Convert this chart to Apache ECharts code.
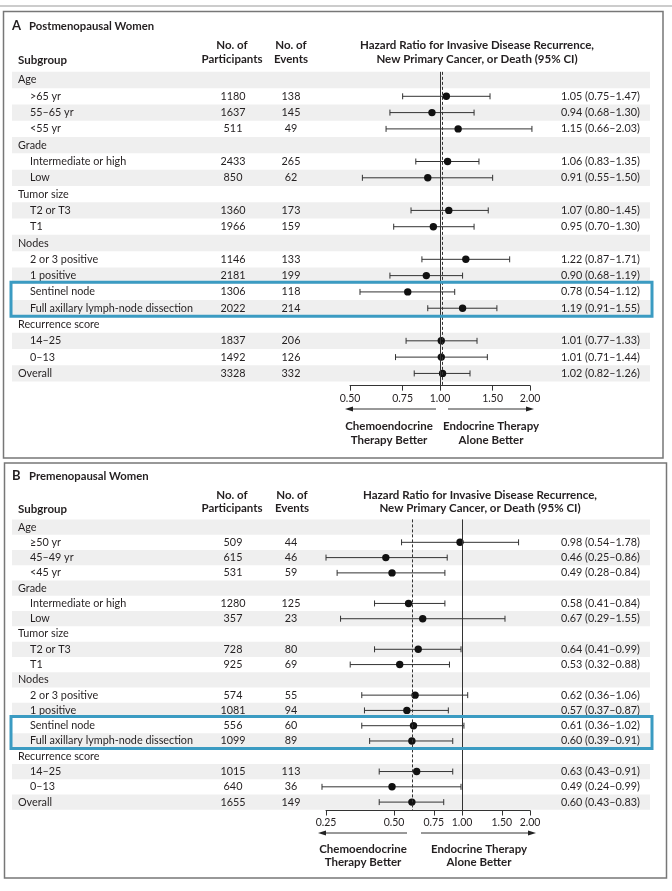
<!DOCTYPE html>
<html><head><meta charset="utf-8">
<script src="https://cdn.jsdelivr.net/npm/echarts@6/dist/echarts.min.js"></script>
<style>html,body{margin:0;padding:0;background:#fff}#c{width:672px;height:891px}</style>
</head><body><div id="c"></div>
<script>
// ---------- Panel A: Postmenopausal Women ----------
const subgroupsA = ["Age", ">65 yr", "55–65 yr", "<55 yr", "Grade", "Intermediate or high", "Low", "Tumor size", "T2 or T3", "T1", "Nodes", "2 or 3 positive", "1 positive", "Sentinel node", "Full axillary lymph-node dissection", "Recurrence score", "14–25", "0–13", "Overall"];
const indentA = [0,1,1,1,0,1,1,0,1,1,0,1,1,1,1,0,1,1,0];
const participantsA = [null,1180,1637,511,null,2433,850,null,1360,1966,null,1146,2181,1306,2022,null,1837,1492,3328];
const eventsA = [null,138,145,49,null,265,62,null,173,159,null,133,199,118,214,null,206,126,332];
const hrA = [null,1.05,0.94,1.15,null,1.06,0.91,null,1.07,0.95,null,1.22,0.90,0.78,1.19,null,1.01,1.01,1.02];
const loA = [null,0.75,0.68,0.66,null,0.83,0.55,null,0.80,0.70,null,0.87,0.68,0.54,0.91,null,0.77,0.71,0.82];
const hiA = [null,1.47,1.30,2.03,null,1.35,1.50,null,1.45,1.30,null,1.71,1.19,1.12,1.55,null,1.33,1.44,1.26];
const ticksA = [0.5, 0.75, 1, 1.5, 2];

// ---------- Panel B: Premenopausal Women ----------
const subgroupsB = ["Age", "≥50 yr", "45–49 yr", "<45 yr", "Grade", "Intermediate or high", "Low", "Tumor size", "T2 or T3", "T1", "Nodes", "2 or 3 positive", "1 positive", "Sentinel node", "Full axillary lymph-node dissection", "Recurrence score", "14–25", "0–13", "Overall"];
const indentB = [0,1,1,1,0,1,1,0,1,1,0,1,1,1,1,0,1,1,0];
const participantsB = [null,509,615,531,null,1280,357,null,728,925,null,574,1081,556,1099,null,1015,640,1655];
const eventsB = [null,44,46,59,null,125,23,null,80,69,null,55,94,60,89,null,113,36,149];
const hrB = [null,0.98,0.46,0.49,null,0.58,0.67,null,0.64,0.53,null,0.62,0.57,0.61,0.60,null,0.63,0.49,0.60];
const loB = [null,0.54,0.25,0.28,null,0.41,0.29,null,0.41,0.32,null,0.36,0.37,0.36,0.39,null,0.43,0.24,0.43];
const hiB = [null,1.78,0.86,0.84,null,0.84,1.55,null,0.99,0.88,null,1.06,0.87,1.02,0.91,null,0.91,0.99,0.83];
const ticksB = [0.25, 0.5, 0.75, 1, 1.5, 2];

const highlightRows = [13, 14];

const FONT = 'Lato';
const TXT = '#231f20';
const BAND = '#efefef';
const BLUE = '#3b9bc2';

const panels = [
  {labels: subgroupsA, indent: indentA, n: participantsA, ev: eventsA, hr: hrA, lo: loA, hi: hiA},
  {labels: subgroupsB, indent: indentB, n: participantsB, ev: eventsB, hr: hrB, lo: loB, hi: hiB}
];

function fmt(v){ return v.toFixed(2); }

function bandSeries(g, P){
  return {
    type:'custom', xAxisIndex:g, yAxisIndex:g, silent:true, z:1,
    data: P.labels.map((_, i) => [1, i]).filter(d => d[1] % 2 === 0),
    renderItem: (params, api) => {
      const r = api.value(1);
      const y0 = api.coord([1, r - 0.5])[1];
      const y1 = api.coord([1, r + 0.5])[1];
      return {type:'rect', shape:{x:12, y:y0, width:638, height:y1 - y0}, style:{fill:BAND}};
    }
  };
}

function textSeries(g, P){
  return {
    type:'custom', xAxisIndex:g, yAxisIndex:g, silent:true, z:5,
    data: P.labels.map((_, i) => [1, i]),
    renderItem: (params, api) => {
      const i = api.value(1);
      const y = api.coord([1, i])[1];
      const f = '10.8px ' + FONT;
      const ch = [{type:'text', style:{text:P.labels[i], x: P.indent[i] ? 30 : 18, y, fill:TXT, font:f, verticalAlign:'middle', align:'left'}}];
      if (P.n[i] != null) {
        ch.push({type:'text', style:{text:String(P.n[i]), x:233, y, fill:TXT, font:f, verticalAlign:'middle', align:'center'}});
        ch.push({type:'text', style:{text:String(P.ev[i]), x:291, y, fill:TXT, font:f, verticalAlign:'middle', align:'center'}});
      }
      if (P.hr[i] != null) {
        ch.push({type:'text', style:{text: fmt(P.hr[i]) + ' (' + fmt(P.lo[i]) + '–' + fmt(P.hi[i]) + ')', x:561, y, fill:TXT, font:f, verticalAlign:'middle', align:'left'}});
      }
      return {type:'group', children: ch};
    }
  };
}

function forestSeries(g, P){
  const data = [];
  P.hr.forEach((h, i) => { if (h != null) data.push([h, i, P.lo[i], P.hi[i]]); });
  const overall = P.hr[P.hr.length - 1];
  return {
    type:'custom', xAxisIndex:g, yAxisIndex:g, silent:true, z:3,
    encode:{x:[0,2,3], y:1},
    data,
    renderItem: (params, api) => {
      const i = api.value(1);
      const c = api.coord([api.value(0), i]);
      const xl = api.coord([api.value(2), i])[0];
      const xh = api.coord([api.value(3), i])[0];
      const st = {stroke:'#333', lineWidth:1};
      return {type:'group', children:[
        {type:'line', shape:{x1:xl, y1:c[1], x2:xh, y2:c[1]}, style:st},
        {type:'line', shape:{x1:xl, y1:c[1]-3, x2:xl, y2:c[1]+3}, style:st},
        {type:'line', shape:{x1:xh, y1:c[1]-3, x2:xh, y2:c[1]+3}, style:st},
        {type:'circle', shape:{cx:c[0], cy:c[1], r:3.7}, style:{fill:'#111'}}
      ]};
    },
    markLine:{
      silent:true, symbol:['none','none'], label:{show:false},
      data:[
        {xAxis:1, lineStyle:{type:'solid', color:'#333', width:1}},
        {xAxis:overall, lineStyle:{type:[3,2], color:'#333', width:1}}
      ]
    }
  };
}

function highlightSeries(g){
  return {
    type:'custom', xAxisIndex:g, yAxisIndex:g, silent:true, z:10,
    data:[[1, Math.min(...highlightRows), Math.max(...highlightRows)]],
    renderItem: (params, api) => {
      const y0 = api.coord([1, api.value(1) - 0.6])[1];
      const y1 = api.coord([1, api.value(2) + 0.5])[1];
      return {type:'rect', shape:{x:11, y:y0, width:641, height:y1 - y0}, style:{fill:'none', stroke:BLUE, lineWidth:3}};
    }
  };
}

function xAxis(g, ticks){
  return {
    type:'log', gridIndex:g, min:ticks[0], max:ticks[ticks.length-1], logBase:10,
    axisLine:{show:true, onZero:false, lineStyle:{color:'#333', width:1}},
    axisTick:{show:true, customValues:ticks, length:5, inside:false, lineStyle:{color:'#333', width:1}},
    axisLabel:{show:true, customValues:ticks, formatter:v => fmt(v), fontSize:10.5, fontFamily:FONT, color:TXT, margin:7},
    splitLine:{show:false}, minorTick:{show:false}
  };
}

function t(text, x, y, opts){
  return Object.assign({type:'text', x, y, silent:true, style:Object.assign({text, fill:TXT, font:'10.5px ' + FONT, align:'left', verticalAlign:'middle'}, (opts||{}))});
}
function arrow(x1, x2, y, dir){
  const hx = dir < 0 ? x1 : x2;
  return [
    {type:'line', silent:true, shape:{x1: dir<0 ? x1+5 : x1, y1:y, x2: dir<0 ? x2 : x2-5, y2:y}, style:{stroke:'#333', lineWidth:1}},
    {type:'polygon', silent:true, shape:{points: dir<0 ? [[hx,y],[hx+8,y-2.6],[hx+8,y+2.6]] : [[hx,y],[hx-8,y-2.6],[hx-8,y+2.6]]}, style:{fill:'#222'}}
  ];
}

const B = 'bold 11.5px ' + FONT;
const graphic = [
  {type:'line', silent:true, shape:{x1:0, y1:6, x2:672, y2:6}, style:{stroke:'#bbb', lineWidth:1.5}},
  {type:'rect', silent:true, shape:{x:3.5, y:11.5, width:659.5, height:446.5}, style:{fill:'none', stroke:'#777', lineWidth:1.5}},
  {type:'rect', silent:true, shape:{x:4.5, y:463, width:662, height:415}, style:{fill:'none', stroke:'#777', lineWidth:1.5}},
  // Panel A headers
  t('A', 12, 26, {font:'bold 13px ' + FONT}),
  t('Postmenopausal Women', 29, 26, {font:'bold 11.3px ' + FONT}),
  t('Subgroup', 18, 60, {font:B}),
  t('No. of', 232, 45, {font:B, align:'center'}),
  t('Participants', 232, 59, {font:B, align:'center'}),
  t('No. of', 291, 45, {font:B, align:'center'}),
  t('Events', 291, 59, {font:B, align:'center'}),
  t('Hazard Ratio for Invasive Disease Recurrence,', 477, 45, {font:B, align:'center'}),
  t('New Primary Cancer, or Death (95% CI)', 477, 59, {font:B, align:'center'}),
  ...arrow(345, 436, 409, -1),
  ...arrow(448, 534, 409, 1),
  t('Chemoendocrine', 389, 426, {font:B, align:'center'}),
  t('Therapy Better', 389, 440, {font:B, align:'center'}),
  t('Endocrine Therapy', 491, 426, {font:B, align:'center'}),
  t('Alone Better', 491, 440, {font:B, align:'center'}),
  // Panel B headers
  t('B', 12, 476, {font:'bold 13px ' + FONT}),
  t('Premenopausal Women', 29, 476, {font:'bold 11.3px ' + FONT}),
  t('Subgroup', 18, 509, {font:B}),
  t('No. of', 232, 495, {font:B, align:'center'}),
  t('Participants', 232, 508, {font:B, align:'center'}),
  t('No. of', 292, 495, {font:B, align:'center'}),
  t('Events', 292, 508, {font:B, align:'center'}),
  t('Hazard Ratio for Invasive Disease Recurrence,', 480, 495, {font:B, align:'center'}),
  t('New Primary Cancer, or Death (95% CI)', 480, 508, {font:B, align:'center'}),
  ...arrow(318, 407, 833, -1),
  ...arrow(421, 536, 833, 1),
  t('Chemoendocrine', 363, 849, {font:B, align:'center'}),
  t('Therapy Better', 363, 862, {font:B, align:'center'}),
  t('Endocrine Therapy', 479, 849, {font:B, align:'center'}),
  t('Alone Better', 479, 862, {font:B, align:'center'})
];

const chart = echarts.init(document.getElementById('c'), null, {renderer:'canvas'});
chart.setOption({
  animation:false,
  backgroundColor:'#fff',
  textStyle:{fontFamily:FONT},
  grid:[
    {left:350, width:180, top:71.85, height:313.8},
    {left:326, width:204, top:519.4, height:291.1}
  ],
  xAxis:[xAxis(0, ticksA), xAxis(1, ticksB)],
  yAxis:[
    {type:'value', gridIndex:0, min:-0.5, max:18.75, inverse:true, show:false},
    {type:'value', gridIndex:1, min:-0.5, max:18.55, inverse:true, show:false}
  ],
  series:[
    bandSeries(0, panels[0]), textSeries(0, panels[0]), forestSeries(0, panels[0]), highlightSeries(0),
    bandSeries(1, panels[1]), textSeries(1, panels[1]), forestSeries(1, panels[1]), highlightSeries(1)
  ],
  graphic
});
</script></body></html>
